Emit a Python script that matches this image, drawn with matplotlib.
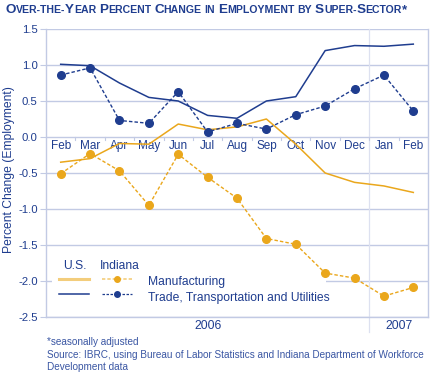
import matplotlib
matplotlib.use("Agg")
import matplotlib.pyplot as plt
from matplotlib.lines import Line2D
from matplotlib.patches import Rectangle

months = ["Feb", "Mar", "Apr", "May", "Jun", "Jul", "Aug", "Sep", "Oct", "Nov", "Dec", "Jan", "Feb"]
us_manufacturing = [-0.35, -0.30, -0.09, -0.10, 0.18, 0.10, 0.14, 0.25, -0.10, -0.50, -0.63, -0.68, -0.77]
in_manufacturing = [-0.51, -0.23, -0.47, -0.95, -0.24, -0.56, -0.85, -1.41, -1.49, -1.89, -1.96, -2.21, -2.09]
us_trade = [1.01, 0.99, 0.75, 0.55, 0.50, 0.30, 0.26, 0.50, 0.56, 1.20, 1.27, 1.26, 1.29]
in_trade = [0.86, 0.96, 0.23, 0.19, 0.63, 0.07, 0.19, 0.11, 0.31, 0.43, 0.67, 0.86, 0.36]
years = ["2006", "2007"]
yticks = [-2.5, -2.0, -1.5, -1.0, -0.5, 0.0, 0.5, 1.0, 1.5]

NAVY = "#1f3d8f"
ORANGE = "#eaa71c"
LIGHT_ORANGE = "#f3cd7c"
GRID = "#c2cae4"
DIV = "#dde1f0"
FOOT = "#3a56a3"

plt.rcParams['font.family'] = ['Liberation Sans', 'DejaVu Sans']

fig = plt.figure(figsize=(4.32, 3.73), dpi=100)
W, H = 432, 373
l, r, t, b = 46, 428, 29, 317
ax = fig.add_axes([l / W, 1 - b / H, (r - l) / W, (b - t) / H])
ax.set_xlim(-0.5, 12.5)
ax.set_ylim(-2.5, 1.5)

x = list(range(len(months)))

for yv in yticks:
    ax.axhline(yv, color=GRID, lw=1.0, zorder=1)
ax.spines["top"].set_visible(False)
for s in ["left", "right", "bottom"]:
    ax.spines[s].set_color(GRID)
    ax.spines[s].set_linewidth(1.0)

ax.set_yticks(yticks)
ax.set_yticklabels([f"{v:.1f}" for v in yticks], color=NAVY, fontsize=8.2)
ax.tick_params(axis="y", length=4, color=GRID, pad=2)
ax.set_xticks([])
ax.set_ylabel("Percent Change (Employment)", color=NAVY, fontsize=8.7)
ax.yaxis.set_label_coords((15 - l) / (r - l), (b - 170) / (b - t))

# divider between years
ax.plot([10.5, 10.5], [1.5, -2.5 - 15 / 72], color=DIV, lw=0.9, clip_on=False, zorder=1)

# minor ticks on zero line
for i in range(len(months) - 1):
    ax.plot([i + 0.5, i + 0.5], [0, -0.04], color=GRID, lw=0.8, zorder=1)

# month labels
for i, m in enumerate(months):
    ax.text(i, -0.12, m, ha="center", va="center", color=NAVY, fontsize=8.5, zorder=2)

# legend box
ax.add_patch(Rectangle((0.016, 0.045), 0.717, 0.165, transform=ax.transAxes,
                       facecolor="white", edgecolor="none", zorder=2))

ax.plot(x, us_manufacturing, color=ORANGE, lw=1.1, zorder=3)
ax.plot(x, us_trade, color=NAVY, lw=1.1, zorder=3)
ax.plot(x, in_manufacturing, color=ORANGE, lw=1.0, ls=(0, (2.5, 1.5)), marker="o",
        markersize=5.5, zorder=4)
ax.plot(x, in_trade, color=NAVY, lw=1.0, ls=(0, (2.5, 1.5)), marker="o",
        markersize=5.5, zorder=4)

# custom legend
tr = ax.transAxes
ax.text(0.076, 0.177, "U.S.", transform=tr, ha="center", va="center", color=NAVY, fontsize=8.7, zorder=5)
ax.text(0.194, 0.177, "Indiana", transform=tr, ha="center", va="center", color=NAVY, fontsize=8.7, zorder=5)
ax.add_line(Line2D([0.034, 0.113], [0.133, 0.133], transform=tr, color=LIGHT_ORANGE, lw=2.2, zorder=5))
ax.add_line(Line2D([0.034, 0.113], [0.080, 0.080], transform=tr, color=NAVY, lw=1.1, zorder=5))
ax.add_line(Line2D([0.147, 0.225], [0.133, 0.133], transform=tr, color=LIGHT_ORANGE, lw=1.2, ls=(0, (2, 1.2)), zorder=5))
ax.add_line(Line2D([0.147, 0.225], [0.080, 0.080], transform=tr, color=NAVY, lw=0.9, ls=(0, (2, 1.2)), zorder=5))
ax.add_line(Line2D([0.186], [0.133], transform=tr, color=ORANGE, marker="o", markersize=4, zorder=6))
ax.add_line(Line2D([0.186], [0.080], transform=tr, color=NAVY, marker="o", markersize=4, zorder=6))
ax.text(0.267, 0.122, "Manufacturing", transform=tr, ha="left", va="center", color=NAVY, fontsize=8.7, zorder=5)
ax.text(0.267, 0.066, "Trade, Transportation and Utilities", transform=tr, ha="left", va="center", color=NAVY, fontsize=8.7, zorder=5)

# year labels
ax.text(5.0, -2.5 - 9 / 72, years[0], ha="center", va="center", color=NAVY, fontsize=8.7, clip_on=False)
ax.text(11.5, -2.5 - 9 / 72, years[1], ha="center", va="center", color=NAVY, fontsize=8.7, clip_on=False)

# footnotes
fig.text(47 / W, 1 - 342 / H, "*seasonally adjusted", ha="left", va="center", color=FOOT, fontsize=7.2)
fig.text(47 / W, 1 - 355 / H, "Source: IBRC, using Bureau of Labor Statistics and Indiana Department of Workforce",
         ha="left", va="center", color=FOOT, fontsize=7.2)
fig.text(47 / W, 1 - 367 / H, "Development data", ha="left", va="center", color=FOOT, fontsize=7.2)

# small-caps title, fitted to the reference width
title = "Over-the-Year Percent Change in Employment by Super-Sector*"
renderer = fig.canvas.get_renderer()
x0, x1 = 5.0, 408.0
yb = 1 - 13 / H


def runs_of(word):
    runs = []
    for ch in word:
        if ch.islower():
            kind = "s"
        elif ch.isupper() or ch == "*":
            kind = "b"
        else:
            kind = runs[-1][0] if runs else "s"
            if kind == "b":
                kind = "s"
        if runs and runs[-1][0] == kind:
            runs[-1][1] += ch
        else:
            runs.append([kind, ch])
    return runs


def layout(big, small, draw):
    xp = x0
    space = big * 0.3
    made = []
    for wi, word in enumerate(title.split(" ")):
        if wi > 0:
            xp += space
        for kind, txt in runs_of(word):
            fs = big if kind == "b" else small
            tt = fig.text(xp / W, yb, txt.upper(), ha="left", va="baseline", color=NAVY,
                          fontsize=fs, fontweight="bold")
            xp += tt.get_window_extent(renderer).width
            made.append(tt)
    if not draw:
        for tt in made:
            tt.remove()
    return xp - x0


big, small = 10.0, 7.8
w = layout(big, small, False)
scale = (x1 - x0) / w
layout(big * scale, small * scale, True)

fig.savefig("out.png", dpi=100)
